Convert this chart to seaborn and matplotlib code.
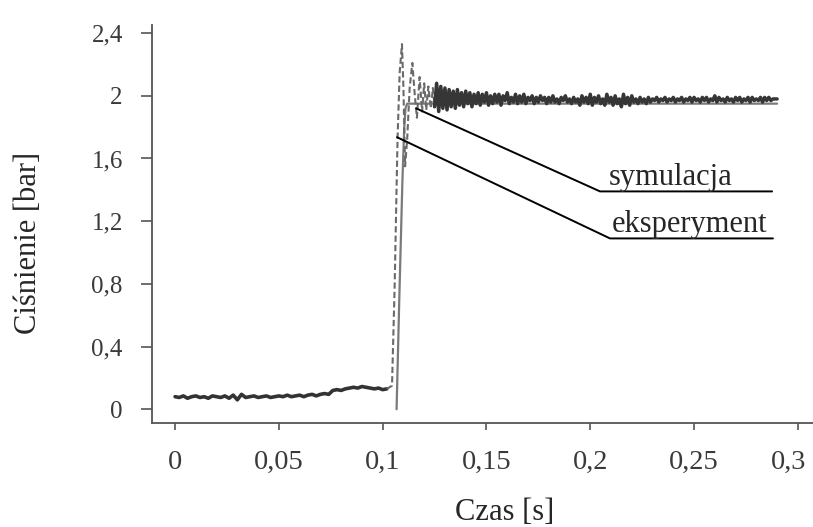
import numpy as np
import pandas as pd
import matplotlib
matplotlib.use("Agg")
import matplotlib.pyplot as plt
from matplotlib.ticker import FuncFormatter
from matplotlib.transforms import ScaledTranslation
import seaborn as sns

# --- data ---
# experiment, slow part before the valve opens (every 2 ms)
base_t = np.round(np.arange(0.0, 0.1025, 0.002), 3)
base_p = [0.08, 0.075, 0.085, 0.07, 0.08, 0.085, 0.075, 0.08, 0.07, 0.085,
          0.08, 0.075, 0.085, 0.07, 0.09, 0.06, 0.095, 0.075, 0.08, 0.085,
          0.075, 0.08, 0.085, 0.075, 0.08, 0.085, 0.08, 0.09, 0.08, 0.085,
          0.09, 0.08, 0.09, 0.095, 0.085, 0.095, 0.10, 0.095, 0.12, 0.125,
          0.12, 0.13, 0.135, 0.14, 0.135, 0.145, 0.14, 0.135, 0.13, 0.135,
          0.125, 0.13]

# experiment, pressure jump and overshoot
jump_t = [0.102, 0.1045, 0.1058, 0.1066, 0.1072, 0.1082, 0.1093, 0.1100,
          0.1108, 0.1118, 0.1130, 0.1143, 0.1155, 0.1165, 0.1178, 0.1190,
          0.1200, 0.1210, 0.1220, 0.1232, 0.1242, 0.125]
jump_p = [0.13, 0.15, 0.8, 1.35, 1.74, 2.15, 2.33, 2.05, 1.55, 1.72,
          2.05, 2.21, 2.0, 1.86, 2.12, 1.9, 2.08, 1.91, 2.06, 1.92,
          2.05, 1.93]

# experiment, steady part (every 1 ms)
tail_t = np.round(np.arange(0.125, 0.2905, 0.001), 3)
tail_p = [1.93, 2.08, 1.90, 2.06, 1.92, 2.05, 1.91, 2.04, 1.93, 2.03,
          1.92, 2.04, 1.94, 2.02, 1.93, 2.03, 1.95, 2.02, 1.93, 2.01,
          1.95, 2.02, 1.94, 2.01, 1.96, 2.02, 1.94, 2.00, 1.95, 2.01,
          1.96, 2.01, 1.94, 2.00, 1.97, 2.02, 1.95, 1.99, 1.96, 2.01,
          1.95, 2.00, 1.96, 2.01, 1.95, 1.99, 1.97, 2.00, 1.95, 1.99,
          1.96, 2.00, 1.97, 1.99, 1.95, 1.99, 1.96, 2.00, 1.96, 1.98,
          1.95, 1.99, 1.97, 2.00, 1.96, 1.98, 1.95, 1.99, 1.96, 1.98,
          1.94, 2.00, 1.96, 1.99, 1.95, 2.01, 1.94, 1.99, 1.96, 2.00,
          1.95, 1.98, 1.94, 2.01, 1.96, 1.99, 1.94, 2.00, 1.95, 1.98,
          1.93, 2.01, 1.95, 1.99, 1.94, 2.00, 1.96, 1.98, 1.95, 1.99,
          1.96, 1.98, 1.95, 1.99, 1.96, 1.98, 1.97, 1.99, 1.96, 1.98,
          1.97, 1.99, 1.96, 1.98, 1.97, 1.99, 1.96, 1.98, 1.97, 1.99,
          1.96, 1.98, 1.97, 1.99, 1.96, 1.99, 1.97, 1.98, 1.96, 1.99,
          1.97, 1.99, 1.96, 1.98, 1.97, 2.00, 1.96, 1.99, 1.97, 1.98,
          1.96, 1.99, 1.97, 1.98, 1.96, 1.99, 1.97, 1.99, 1.96, 1.98,
          1.97, 1.99, 1.96, 1.99, 1.97, 1.98, 1.97, 1.99, 1.96, 1.99,
          1.97, 1.99, 1.97, 1.98, 1.98, 1.98]

# simulation
sim_t = [0.1067, 0.1080, 0.1095, 0.1104, 0.1110, 0.1118, 0.2900]
sim_p = [0.0, 0.7, 1.45, 1.80, 1.92, 1.95, 1.95]

x_ticks = [0, 0.05, 0.1, 0.15, 0.2, 0.25, 0.3]
y_ticks = [0, 0.4, 0.8, 1.2, 1.6, 2.0, 2.4]

base_df = pd.DataFrame({"t": base_t, "p": base_p})
jump_df = pd.DataFrame({"t": jump_t, "p": jump_p})
tail_df = pd.DataFrame({"t": tail_t, "p": tail_p})
sim_df = pd.DataFrame({"t": sim_t, "p": sim_p})

sns.set_style("ticks")
plt.rcParams["font.family"] = ["Liberation Serif", "DejaVu Serif"]

fig = plt.figure(figsize=(8.13, 5.27), dpi=100)
ax = fig.add_axes([0.187, 0.197, 0.813, 0.755])

sns.lineplot(data=sim_df, x="t", y="p", ax=ax, color="#7a7a7a", lw=1.6,
             estimator=None, sort=False)
sns.lineplot(data=base_df, x="t", y="p", ax=ax, color="#333333", lw=2.6,
             estimator=None, sort=False)
sns.lineplot(data=jump_df, x="t", y="p", ax=ax, color="#6a6a6a", lw=1.5,
             ls=(0, (3, 1.5)), estimator=None, sort=False)
sns.lineplot(data=tail_df, x="t", y="p", ax=ax, color="#363636", lw=2.5,
             estimator=None, sort=False)

ax.set_xlim(-0.0111, 0.3073)
ax.set_ylim(-0.089, 2.45)
ax.set_xticks(x_ticks)
ax.set_yticks(y_ticks)
comma = FuncFormatter(lambda v, pos: f"{v:g}".replace(".", ","))
ax.xaxis.set_major_formatter(comma)
ax.yaxis.set_major_formatter(comma)
ax.tick_params(axis="y", direction="out", length=8, width=1.2, color="#555555",
               labelsize=18, labelcolor="#3a3a3a", pad=13)
ax.tick_params(axis="x", direction="out", length=5, width=1.2, color="#555555",
               labelsize=20.5, labelcolor="#3a3a3a", pad=14)
for s in ["top", "right"]:
    ax.spines[s].set_visible(False)
for s in ["left", "bottom"]:
    ax.spines[s].set_color("#555555")
    ax.spines[s].set_linewidth(1.3)
ax.set_xlabel("")
ax.set_ylabel("")

# last x label sits at the very edge of the scan; keep it inside the canvas
last = ax.get_xticklabels()[-1]
last.set_horizontalalignment("right")
last.set_transform(last.get_transform() + ScaledTranslation(0.08, 0, fig.dpi_scale_trans))

# labels placed like the scan
fig.text(28 / 813, 1 - 243 / 527, "Ciśnienie [bar]", rotation=90,
         ha="center", va="center", fontsize=22)
fig.text(505 / 813, 1 - 512 / 527, "Czas [s]", ha="center", va="center",
         fontsize=22)

# leader lines with underlined labels
ax.plot([0.1161, 0.2047, 0.2876], [1.92, 1.39, 1.39], color="black", lw=1.4)
ax.plot([0.1069, 0.2095, 0.2880], [1.736, 1.09, 1.09], color="black", lw=1.4)
ax.text(0.2091, 1.43, "symulacja", fontsize=22, va="baseline", ha="left")
ax.text(0.2105, 1.13, "eksperyment", fontsize=22, va="baseline", ha="left")

fig.savefig("out.png", dpi=100)
